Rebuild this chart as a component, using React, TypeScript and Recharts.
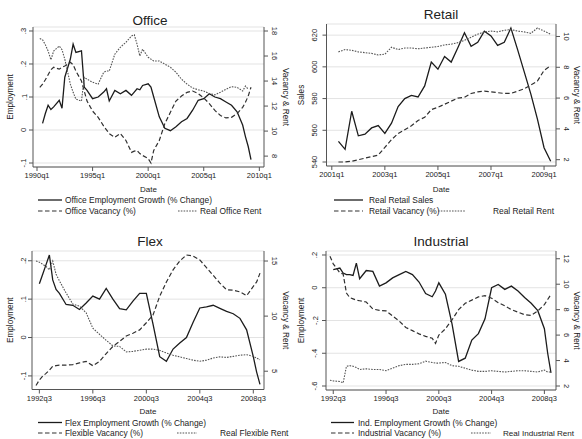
import React from "react";
import { LineChart, Line, XAxis, YAxis, CartesianGrid } from "recharts";

const FONT = "'Liberation Sans', Arial, Helvetica, sans-serif";
const INK = "#222";

// ---- Office ----
const officeDates = [1990.25, 1990.5, 1990.75, 1991, 1991.25, 1991.5, 1992, 1992.25, 1992.5, 1993, 1993.25, 1993.5, 1994, 1994.25, 1994.5, 1995, 1995.5, 1996, 1996.25, 1996.5, 1997, 1997.5, 1998, 1998.5, 1998.75, 1999, 1999.25, 1999.5, 2000, 2000.25, 2000.5, 2001, 2001.5, 2002, 2002.5, 2003, 2003.5, 2004, 2004.5, 2005, 2005.5, 2006, 2006.5, 2007, 2007.5, 2008, 2008.5, 2008.75, 2009, 2009.25];
const officeEmployment = [null, 0.02, 0.05, 0.075, 0.062, 0.07, 0.09, 0.066, 0.16, 0.215, 0.26, 0.235, 0.24, 0.13, 0.12, 0.095, 0.1, 0.115, 0.125, 0.088, 0.12, 0.11, 0.12, 0.105, 0.115, 0.125, 0.122, 0.135, 0.14, 0.13, 0.1, 0.04, 0.005, -0.002, 0.01, 0.025, 0.035, 0.06, 0.09, 0.095, 0.11, 0.1, 0.095, 0.085, 0.075, 0.055, 0.015, -0.02, -0.05, -0.09];
const officeVacancy = [13.5, 13.75, 14.1, 14.5, 14.9, 15.1, 14.95, 15.1, 15.2, 15.5, 15.3, 14.8, 14.0, 13.2, 12.4, 11.6, 11.1, 10.4, 10.1, 9.8, 9.5, 9.8, 9.25, 8.3, 8.4, 8.45, 8.2, 8.05, 7.8, 7.45, 8.45, 9.25, 10.6, 11.5, 12.4, 12.8, 13.1, 13.2, 13.0, 12.65, 12.2, 11.65, 11.25, 11.05, 11.1, 11.4, 11.9, 12.3, 12.8, 13.5];
const officeRent = [17.4, 17.3, 16.9, 16.4, 15.7, 16.4, 16.8, 16.5, 15.75, 13.75, 13.1, 12.55, 12.4, 14.3, 14.15, 13.9, 13.75, 14.7, 14.8, 14.8, 16.15, 16.7, 17.1, 17.6, 17.7, 16.95, 16.0, 16.55, 15.9, 15.75, 15.6, 15.6, 15.35, 15.1, 14.7, 14.15, 13.75, 13.45, 13.3, 13.2, 13.0, 12.9, 13.1, 13.35, 13.55, 13.5, 13.2, 13.6, 13.35, null];

// ---- Retail ----
const retailDates = [2001.25, 2001.5, 2001.75, 2002, 2002.25, 2002.5, 2002.75, 2003, 2003.25, 2003.5, 2003.75, 2004, 2004.25, 2004.5, 2004.75, 2005, 2005.25, 2005.5, 2005.75, 2006, 2006.25, 2006.5, 2006.75, 2007, 2007.25, 2007.5, 2007.75, 2008, 2008.25, 2008.5, 2008.75, 2009, 2009.25];
const retailSales = [553, 548, 572, 556.5, 557.5, 561.5, 563, 558, 564.5, 575, 580, 582, 581, 588, 603, 598.5, 606.5, 603, 612, 621.5, 613, 615.5, 622.5, 619.5, 613.5, 615.5, 624.5, 611, 597, 583, 567, 549, 540.5];
const retailVacancy = [1.85, 1.85, 1.9, 2.0, 2.1, 2.2, 2.3, 2.8, 3.3, 3.7, 3.95, 4.2, 4.55, 4.75, 5.25, 5.4, 5.6, 5.8, 6.0, 6.05, 6.3, 6.4, 6.45, 6.4, 6.35, 6.3, 6.3, 6.45, 6.6, 6.85, 7.1, 7.8, 8.1];
const retailRent = [9.0, 9.15, 9.1, 9.0, 8.95, 8.9, 8.8, 8.85, 9.3, 9.15, 9.25, 9.25, 9.2, 9.25, 9.3, 9.35, 9.45, 9.5, 9.6, 9.75, 9.95, 10.15, 10.3, 10.35, 10.3, 10.4, 10.45, 10.35, 10.3, 10.2, 10.55, 10.35, 10.15];

// ---- Flex ----
const flexDates = [1992.25, 1992.5, 1992.75, 1993, 1993.25, 1993.5, 1993.75, 1994, 1994.5, 1995, 1995.5, 1996, 1996.5, 1997, 1997.5, 1998, 1998.5, 1999, 1999.5, 2000, 2000.5, 2001, 2001.5, 2002, 2002.5, 2003, 2003.5, 2004, 2004.5, 2005, 2005.5, 2006, 2006.5, 2007, 2007.5, 2008, 2008.5, 2008.75, 2009];
const flexEmployment = [null, 0.14, 0.165, 0.19, 0.215, 0.15, 0.125, 0.115, 0.086, 0.084, 0.073, 0.09, 0.108, 0.1, 0.128, 0.1, 0.075, 0.072, 0.095, 0.115, 0.115, 0.035, -0.05, -0.062, -0.03, -0.014, 0.0, 0.04, 0.077, 0.08, 0.084, 0.076, 0.068, 0.062, 0.05, 0.02, -0.05, -0.09, -0.122];
const flexVacancy = [3.7, 4.2, 4.55, 4.8, 5.1, 5.45, 5.5, 5.55, 5.55, 5.6, 5.75, 5.9, 5.5, 5.9, 6.6, 7.25, 7.7, 8.2, 8.45, 8.75, 9.4, 10.1, 11.8, 13.1, 14.2, 15.0, 15.55, 15.45, 15.1, 14.4, 13.7, 13.0, 12.4, 12.35, 12.2, 11.85, 12.7, 13.1, 13.9];
const flexRent = [15.0, 14.9, 14.7, 14.5, 14.2, 15.0, 13.8, 13.2, 12.1, 11.1, 10.9, 10.3, 8.9, 8.35, 7.8, 7.3, 7.25, 6.75, 6.8, 6.9, 7.0, 7.0, 6.9, 6.65, 6.45, 6.3, 6.15, 6.0, 5.9, 6.0, 6.2, 6.3, 6.25, 6.35, 6.45, 6.5, 6.35, 6.2, 6.05];

// ---- Industrial ----
const industrialDates = [1992.25, 1992.5, 1993, 1993.25, 1993.5, 1993.75, 1994, 1994.25, 1994.5, 1995, 1995.5, 1996, 1996.5, 1997, 1997.5, 1998, 1998.5, 1999, 1999.5, 2000, 2000.25, 2000.5, 2001, 2001.5, 2002, 2002.5, 2003, 2003.5, 2004, 2004.5, 2005, 2005.5, 2006, 2006.5, 2007, 2007.5, 2008, 2008.5, 2008.75, 2009];
const industrialEmployment = [null, 0.11, 0.12, 0.09, 0.08, 0.08, 0.075, 0.15, 0.055, 0.105, 0.1, 0.01, 0.03, 0.06, 0.08, 0.1, 0.08, 0.035, -0.035, -0.055, -0.02, 0.03, -0.04, -0.22, -0.45, -0.43, -0.32, -0.28, -0.19, 0.0, 0.02, -0.01, 0.01, -0.02, -0.06, -0.095, -0.14, -0.25, -0.4, -0.52];
const industrialVacancy = [12.2, 11.6, 10.9, 10.8, 9.3, 8.95, 8.85, 8.75, 8.7, 8.6, 8.05, 7.95, 7.9, 7.5, 7.1, 6.6, 6.35, 6.1, 5.9, 5.75, 5.35, 6.0, 6.5, 7.2, 8.0, 8.5, 8.75, 9.0, 9.1, 8.9, 8.55, 8.3, 8.0, 7.8, 7.6, 7.55, 7.9, 8.4, 8.8, 9.2];
const industrialRent = [2.45, 2.4, 2.35, 2.25, 3.55, 3.6, 3.55, 3.45, 3.3, 3.35, 3.3, 3.3, 3.2, 3.4, 3.6, 3.7, 3.7, 3.75, 3.95, 3.85, 3.8, 3.8, 3.85, 3.6, 3.55, 3.4, 3.25, 3.15, 3.15, 3.2, 3.15, 3.1, 3.15, 3.2, 3.2, 3.15, 3.1, 3.25, 3.1, 3.1];

const rows = (dates, emp, vac, rent) =>
  dates.map((d, i) => ({ date: d, emp: emp[i], vac: vac[i], rent: rent[i] }));

const styles = {
  emp: { stroke: "#1c1c1c", width: 1.3, dash: undefined },
  vac: { stroke: "#303030", width: 1.2, dash: "4.5 2.5" },
  rent: { stroke: "#555555", width: 1.1, dash: "1.6 1.2" },
};

const decimalLabel = (v) => {
  if (Math.abs(v) < 1e-9) return "0";
  return String(Math.round(v * 10) / 10).replace("0.", ".");
};
const plainLabel = (v) => String(v);
const quarterLabel = (v) => {
  const yr = Math.floor(v);
  return `${yr}q${Math.round((v - yr) * 4) + 1}`;
};

const LeftTick = ({ y, payload, fmt }) => (
  <text x={24} y={y} transform={`rotate(-90 24 ${y})`} textAnchor="middle" dominantBaseline="central"
    fontSize={7.5} fill={INK} fontFamily={FONT}>{fmt(payload.value)}</text>
);
const RightTick = ({ y, payload, cx }) => (
  <text x={cx} y={y} transform={`rotate(90 ${cx} ${y})`} textAnchor="middle" dominantBaseline="central"
    fontSize={7.5} fill={INK} fontFamily={FONT}>{payload.value}</text>
);

const Panel = (p) => {
  const { x, y, h, plot } = p;
  const axisH = 24;
  const midY = (plot.top + plot.bottom) / 2;
  const midX = (plot.left + plot.right) / 2;
  return (
    <div style={{ position: "absolute", left: x, top: y, width: 291, height: h, overflow: "hidden" }}>
      <LineChart width={291} height={h} data={p.data}
        margin={{ top: plot.top, right: 0, left: 0, bottom: h - plot.bottom - axisH }}>
        <CartesianGrid vertical={false} yAxisId="left" stroke="#e3e3e3" />
        <XAxis dataKey="date" type="number" domain={p.xDomain} ticks={p.xTicks} interval={0} allowDataOverflow
          tickFormatter={quarterLabel} tickSize={4} height={axisH} stroke="#555"
          tick={{ fontSize: 7.5, fill: INK, fontFamily: FONT }} />
        <YAxis yAxisId="left" domain={p.leftDomain} ticks={p.leftTicks} interval={0} allowDataOverflow
          width={plot.left} tickSize={4} stroke="#555"
          tick={(t) => <LeftTick y={t.y} payload={t.payload} fmt={p.leftFmt} />} />
        <YAxis yAxisId="right" orientation="right" domain={p.rightDomain} ticks={p.rightTicks} interval={0}
          allowDataOverflow width={291 - plot.right} tickSize={4} stroke="#555"
          tick={(t) => <RightTick y={t.y} payload={t.payload} cx={plot.right + 10.5} />} />
        {["emp", "vac", "rent"].map((k) => (
          <Line key={k} yAxisId={k === "emp" ? "left" : "right"} dataKey={k} type="linear" dot={false}
            activeDot={false} isAnimationActive={false} stroke={styles[k].stroke}
            strokeWidth={styles[k].width} strokeDasharray={styles[k].dash} />
        ))}
      </LineChart>
      <svg width={291} height={h} style={{ position: "absolute", left: 0, top: 0, pointerEvents: "none" }}
        fontFamily={FONT} fill={INK}>
        <text x={150} y={p.titleY} textAnchor="middle" dominantBaseline="central" fontSize={13.5}>{p.title}</text>
        <text x={10} y={midY} transform={`rotate(-90 10 ${midY})`} textAnchor="middle" dominantBaseline="central"
          fontSize={8.2}>{p.leftTitle}</text>
        <text x={285.5} y={midY} transform={`rotate(90 285.5 ${midY})`} textAnchor="middle"
          dominantBaseline="central" fontSize={8.2}>Vacancy &amp; Rent</text>
        <text x={midX} y={p.dateY} textAnchor="middle" dominantBaseline="central" fontSize={8}>Date</text>
        {p.legend.map((it) => (
          <g key={it.label}>
            <line x1={it.x1} x2={it.x2} y1={it.y} y2={it.y} stroke={styles[it.s].stroke}
              strokeWidth={styles[it.s].width} strokeDasharray={styles[it.s].dash} />
            <text x={it.tx} y={it.y} dominantBaseline="central" fontSize={it.fs || 8.4}>{it.label}</text>
          </g>
        ))}
      </svg>
    </div>
  );
};

export default function App() {
  return (
    <div style={{ position: "absolute", left: 0, top: 0, width: 582, height: 439, background: "#fff", overflow: "hidden" }}>
      <Panel x={0} y={0} h={220} title="Office" titleY={20} leftTitle="Employment"
        data={rows(officeDates, officeEmployment, officeVacancy, officeRent)}
        plot={{ left: 33, right: 264, top: 27, bottom: 167 }}
        xDomain={[1989.64, 2010.42]} xTicks={[1990, 1995, 2000, 2005, 2010]}
        leftDomain={[-0.1121, 0.3121]} leftTicks={[-0.1, 0, 0.1, 0.2, 0.3]} leftFmt={decimalLabel}
        rightDomain={[7.13, 18.32]} rightTicks={[8, 10, 12, 14, 16, 18]} dateY={189}
        legend={[
          { s: "emp", x1: 38, x2: 62, tx: 65, y: 200, label: "Office Employment Growth (% Change)" },
          { s: "vac", x1: 38, x2: 62, tx: 65, y: 211, label: "Office Vacancy (%)" },
          { s: "rent", x1: 178, x2: 197, tx: 200, y: 211, label: "Real Office Rent" },
        ]} />
      <Panel x={291} y={0} h={220} title="Retail" titleY={14} leftTitle="Sales"
        data={rows(retailDates, retailSales, retailVacancy, retailRent)}
        plot={{ left: 35.5, right: 265, top: 24, bottom: 166 }}
        xDomain={[2000.8, 2009.45]} xTicks={[2001, 2003, 2005, 2007, 2009]}
        leftDomain={[537.48, 627.02]} leftTicks={[540, 560, 580, 600, 620]} leftFmt={plainLabel}
        rightDomain={[1.59, 10.81]} rightTicks={[2, 4, 6, 8, 10]} dateY={189}
        legend={[
          { s: "emp", x1: 43, x2: 72, tx: 78, y: 200, label: "Real Retail Sales" },
          { s: "vac", x1: 43, x2: 72, tx: 78, y: 211, label: "Retail Vacancy (%)" },
          { s: "rent", x1: 147, x2: 175, tx: 202, y: 211, label: "Real Retail Rent" },
        ]} />
      <Panel x={0} y={220} h={219} title="Flex" titleY={21.5} leftTitle="Employment"
        data={rows(flexDates, flexEmployment, flexVacancy, flexRent)}
        plot={{ left: 32, right: 264, top: 31, bottom: 169.5 }}
        xDomain={[1991.95, 2009.3]} xTicks={[1992.5, 1996.5, 2000.5, 2004.5, 2008.5]}
        leftDomain={[-0.1354, 0.2254]} leftTicks={[-0.1, 0, 0.1, 0.2]} leftFmt={decimalLabel}
        rightDomain={[3.34, 15.91]} rightTicks={[5, 10, 15]} dateY={191}
        legend={[
          { s: "emp", x1: 38, x2: 62, tx: 65, y: 202.5, label: "Flex Employment Growth (% Change)" },
          { s: "vac", x1: 38, x2: 62, tx: 65, y: 213, label: "Flexible Vacancy (%)" },
          { s: "rent", x1: 177, x2: 197, tx: 220, y: 213, label: "Real Flexible Rent" },
        ]} />
      <Panel x={291} y={220} h={219} title="Industrial" titleY={21.5} leftTitle="Employment"
        data={rows(industrialDates, industrialEmployment, industrialVacancy, industrialRent)}
        plot={{ left: 35, right: 265, top: 31, bottom: 170 }}
        xDomain={[1991.95, 2009.38]} xTicks={[1992.5, 1996.5, 2000.5, 2004.5, 2008.5]}
        leftDomain={[-0.6244, 0.2244]} leftTicks={[-0.6, -0.4, -0.2, 0, 0.2]} leftFmt={decimalLabel}
        rightDomain={[1.686, 12.61]} rightTicks={[2, 4, 6, 8, 10, 12]} dateY={191.5}
        legend={[
          { s: "emp", x1: 40, x2: 63, tx: 67, y: 202.5, label: "Ind. Employment Growth (% Change)" },
          { s: "vac", x1: 40, x2: 63, tx: 67, y: 213, label: "Industrial Vacancy (%)" },
          { s: "rent", x1: 180, x2: 200, tx: 212, y: 213, label: "Real Industrial Rent", fs: 8.1 },
        ]} />
    </div>
  );
}
